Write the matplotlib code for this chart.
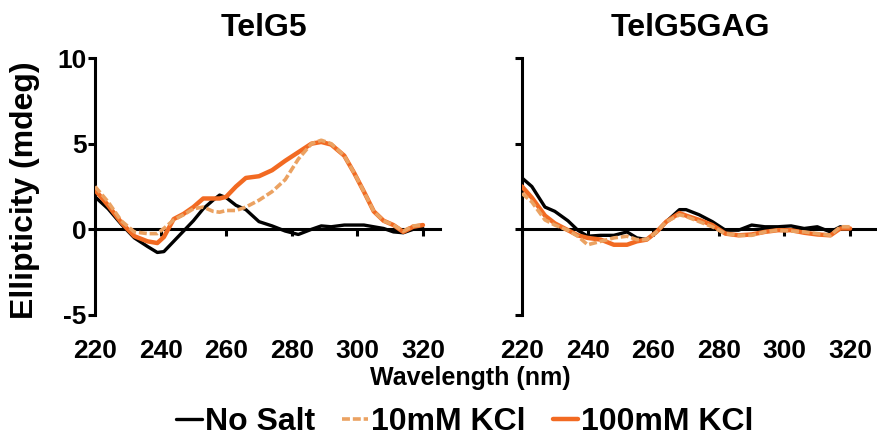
import numpy as np
import matplotlib
matplotlib.use("Agg")
import matplotlib.pyplot as plt

# ===== STYLE =====
plt.rcParams['font.family'] = ['Liberation Sans', 'DejaVu Sans']
plt.rcParams['font.weight'] = 'bold'
plt.rcParams['axes.unicode_minus'] = False

# ===== DATA =====
panel_titles = ["TelG5", "TelG5GAG"]
series_labels = ["No Salt", "10mM KCl", "100mM KCl"]
x_ticks = [220, 240, 260, 280, 300, 320]
y_ticks = [-5, 0, 5, 10]

# TelG5
wl_g5 = [220, 224, 228, 232, 236, 239, 241, 244, 247, 250, 253, 256, 258, 260, 263, 266,
         270, 274, 278, 282, 286, 289, 292, 296, 299, 302, 305, 308, 311, 314, 317, 320]
g5_nosalt = [1.9, 1.2, 0.3, -0.5, -1.0, -1.35, -1.3, -0.7, -0.1, 0.5, 1.2, 1.7, 2.0, 1.85, 1.4, 1.15,
             0.45, 0.2, -0.1, -0.3, 0.0, 0.2, 0.15, 0.25, 0.25, 0.25, 0.15, 0.05, -0.15, -0.2, 0.0, 0.05]
g5_kcl10 = [2.5, 1.6, 0.5, -0.15, -0.25, -0.25, 0.05, 0.55, 0.85, 1.2, 1.3, 1.05, 1.0, 1.1, 1.1, 1.3,
            1.7, 2.2, 2.9, 4.1, 5.0, 5.2, 5.0, 4.3, 3.3, 2.2, 1.05, 0.5, 0.25, -0.1, 0.2, 0.25]
g5_kcl100 = [2.3, 1.4, 0.4, -0.4, -0.7, -0.8, -0.45, 0.6, 0.9, 1.3, 1.8, 1.8, 1.8, 1.9, 2.5, 3.0,
             3.1, 3.45, 4.0, 4.5, 5.0, 5.1, 4.95, 4.3, 3.3, 2.2, 1.05, 0.5, 0.25, -0.15, 0.15, 0.25]

# TelG5GAG
wl_gag = [220, 223, 227, 230, 234, 237, 240, 244, 248, 252, 255, 258, 261, 264, 268, 270,
          274, 278, 282, 286, 290, 294, 298, 302, 306, 310, 314, 317, 320]
gag_nosalt = [3.0, 2.5, 1.3, 1.05, 0.5, -0.05, -0.4, -0.35, -0.35, -0.15, -0.5, -0.6, -0.15, 0.45, 1.15, 1.15,
              0.85, 0.45, -0.05, -0.05, 0.25, 0.15, 0.15, 0.2, 0.05, 0.15, -0.15, 0.15, 0.0]
gag_kcl10 = [2.1, 1.6, 0.55, 0.25, -0.05, -0.4, -0.9, -0.7, -0.5, -0.4, -0.6, -0.6, -0.15, 0.45, 0.85, 0.75,
             0.45, 0.15, -0.25, -0.35, -0.35, -0.15, -0.05, -0.1, -0.15, -0.25, -0.35, 0.15, 0.15]
gag_kcl100 = [2.5, 1.85, 0.8, 0.35, -0.05, -0.35, -0.5, -0.6, -0.9, -0.9, -0.7, -0.6, -0.15, 0.45, 0.95, 0.8,
              0.55, 0.25, -0.25, -0.35, -0.3, -0.15, -0.05, -0.05, -0.2, -0.3, -0.35, 0.05, 0.05]

panels = [
    (wl_g5, [g5_nosalt, g5_kcl10, g5_kcl100]),
    (wl_gag, [gag_nosalt, gag_kcl10, gag_kcl100]),
]

colors = ["black", "#EBA262", "#F26A22"]
widths = [2.4, 2.6, 3.2]
styles = ["-", (0, (2.2, 0.8)), "-"]
zorders = [3, 5, 4]

# ===== FIGURE =====
W, H = 878, 441
fig = plt.figure(figsize=(W / 100, H / 100), dpi=100)

# axes boxes in pixels: left, right, xmax
boxes = [(95, 440, 325.2), (522, 878, 328.5)]
y_top, y_bot = 58, 315

axes = []
for i, (xl, xr, xmax) in enumerate(boxes):
    ax = fig.add_axes([xl / W, 1 - y_bot / H, (xr - xl) / W, (y_bot - y_top) / H])
    ax.set_xlim(220, xmax)
    ax.set_ylim(-5, 10)
    ax.patch.set_alpha(0)

    wl, ys = panels[i]
    for k, y in enumerate(ys):
        ax.plot(wl, y, color=colors[k], linewidth=widths[k], linestyle=styles[k],
                zorder=zorders[k], label=series_labels[k], solid_capstyle='round')

    # ===== axes format =====
    ax.spines['top'].set_visible(False)
    ax.spines['right'].set_visible(False)
    ax.spines['bottom'].set_position(('data', 0))
    ax.spines['left'].set_bounds(-5, 10)
    for s in ['left', 'bottom']:
        ax.spines[s].set_linewidth(2.2)
        ax.spines[s].set_zorder(2)
    ax.set_xticks(x_ticks)
    ax.set_yticks(y_ticks)
    ax.tick_params(axis='x', direction='out', length=5, width=2.2, labelbottom=False)
    ax.tick_params(axis='y', direction='out', length=5, width=2.2, pad=1, labelsize=19)
    if i == 1:
        ax.tick_params(axis='y', labelleft=False)

    # tick labels sit below the plot, not on the zero line
    for t in x_ticks:
        ax.text(t, -0.14, str(t), transform=ax.get_xaxis_transform(),
                ha='center', va='center', fontsize=19, fontweight='bold')

    axes.append(ax)

# ===== TEXT =====
fig.text(264 / W, 1 - 28 / H, panel_titles[0], ha='center', va='center', fontsize=23, fontweight='bold')
fig.text(690 / W, 1 - 28 / H, panel_titles[1], ha='center', va='center', fontsize=23, fontweight='bold')
fig.text(25 / W, 1 - 190 / H, "Ellipticity (mdeg)", rotation=90, ha='center', va='center',
         fontsize=23, fontweight='bold')
fig.text(470 / W, 1 - 378 / H, "Wavelength (nm)", ha='center', va='center', fontsize=18, fontweight='bold')

handles, labels = axes[0].get_legend_handles_labels()
fig.legend(handles, labels, loc='center', bbox_to_anchor=(465 / W, 1 - 422 / H), ncol=3,
           frameon=False, handlelength=0.8, handletextpad=0.1, columnspacing=0.85,
           prop={'weight': 'bold', 'size': 23})

plt.savefig("out.png", dpi=100)
plt.close()
